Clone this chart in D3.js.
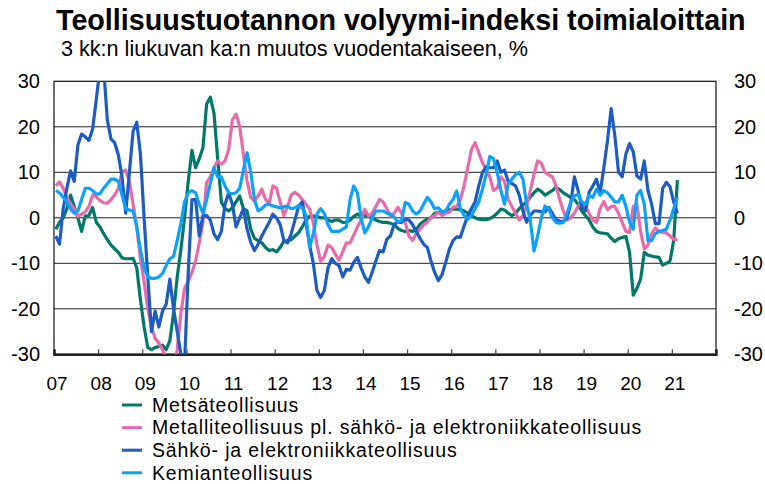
<!DOCTYPE html>
<html>
<head>
<meta charset="utf-8">
<script src="https://cdn.jsdelivr.net/npm/d3@7/dist/d3.min.js"></script>
<style>
  body { margin: 0; background: #fff; }
  text { font-family: "Liberation Sans", Arial, sans-serif; fill: #000; }
</style>
</head>
<body>
<div id="chart"></div>
<script>
// monthly values from 2007-01 to 2021-02, 3 month moving avg y/y change %
const yearLabels = ["07","08","09","10","11","12","13","14","15","16","17","18","19","20","21"];
const yTicks = [-30, -20, -10, 0, 10, 20, 30];

const metsa = [
  -2.5,-1,0,2,5,2.5,0,-3,0.4,0.5,
  2.3,-1,-2,-3.5,-4.8,-6,-6.8,-7.6,-8.8,-9,
  -9,-8.9,-11,-18,-24,-28.5,-29,-28.5,-28.3,-28,
  -29,-27,-21,-13,-7,0,8,14.8,11,13,
  15.4,25,26.5,23,13,3.5,2,1.5,2.2,3.5,
  4.8,2,1.5,-2.5,-4.5,-5,-5.5,-6.5,-7.2,-7,
  -7.5,-6.5,-5.2,-5,-4.8,-4,-3.3,-2,-0.5,0.3,
  0.4,0.3,0,0,-0.5,-0.8,-0.5,-0.5,-1,-1,
  -0.5,0.3,0.8,0.3,0.5,0.3,0,-0.5,-0.8,-1,
  -1,-1.2,-1.5,-2.3,-2.8,-3,-2.8,-3,-2.6,-1.4,
  -0.8,-0.3,0,1,1.2,1.3,1.5,1.8,1.9,1.9,
  1.8,1.5,1,0.5,0,-0.3,-0.4,-0.4,-0.2,0.3,
  1,1.9,1.7,1,0.5,1,2,2.8,3.5,4.5,
  5.5,6.3,5.8,5,5.5,6,6.7,6.2,5.5,5,
  4.5,4,3,1.5,0.5,-0.5,-2,-3,-3.3,-3.4,
  -3.5,-4.5,-5.2,-4.6,-4.3,-4.1,-7.6,-17,-15.5,-13.5,
  -7.6,-8.2,-8.4,-8.6,-8.7,-10.4,-10,-9.5,-5,8.3
];

const metalli = [
  7,7.9,6.5,4.5,3,2,0.3,0.8,1.3,2.5,
  5,4.6,3.8,3.3,3.2,4,5,6.5,10,10.5,
  8,3,-2,-9,-14,-20,-24,-26.5,-27.5,-29,
  -31,-33,-33,-29,-21,-15.5,-14,-12,-9.5,-5.5,
  -1,7.8,9,11,12.5,11.8,12.5,15,21.5,22.8,
  20,14,8,4.5,3.7,4.8,6.3,4.1,3,7,
  6.5,3.5,0.5,2.5,5,5.6,5,4,3,1.9,
  -1,-6,-9.5,-8.5,-6,-6.5,-8,-9.3,-7.5,-5.5,
  -5.5,-3.8,-2,-0.5,1.9,0.4,1,2.5,4,3.5,
  2,0.4,1,2.3,1,-1,-4,-5,-3.5,-2.5,
  -1.5,-1,0,0.5,1.2,0.5,1,1.2,2.3,2.5,
  4,7,11,15,16.5,14.3,12.1,10.7,9,6,
  6.5,9,8,4,2.5,1,-0.5,0.5,2.6,6,
  9.5,12.5,12,10,9.5,9,7,4,1.5,-0.5,
  0,1,2.5,3.4,2.5,1,-0.5,-1,2,3.6,
  1.8,2.5,2.5,1,-1,-3,-3.2,2.5,3,-3,
  -6.8,-6,-3.5,-2.2,-3,-3.2,-3.3,-4,-4.7,-4.8
];

const sahko = [
  -4,-5.8,2,6.5,10.3,8,16,18.4,17.8,17,
  19.5,26,33,33,21.5,17.3,16.5,13.8,9,1,
  10,19,21,14,0,-13,-25,-20.5,-24,-20.5,
  -19,-13.5,-20,-25,-30,-32,-12,4,4,-4,
  0.5,0.5,-0.5,-3.5,-4.8,-3,3,5.5,3,-2,
  0,2,-2.5,-5.4,-7.2,-5.8,-4,-2.5,-1,0.8,
  0,-1.5,-5,-5.5,-3.5,-0.5,2.5,3.5,-1,-6,
  -10,-16,-17.5,-16,-11,-9,-10,-10.5,-13,-11.3,
  -11.5,-9.8,-8.7,-11,-13,-14.2,-12,-9.5,-7.2,-7.5,
  -4.7,-4,-1.4,-1,-1,-0.3,-0.5,-1.5,-3,-4.5,
  -5.8,-6.5,-9.5,-12,-13.8,-12.5,-9.8,-6.9,-5,-4.2,
  -4.3,-1.8,0.5,2,3.5,7,10,11.2,11,11,
  12.5,10,10.5,8,7.5,7,5,1.5,-1,0.5,
  1.5,1.5,1.3,1.3,2.3,1,-0.5,-0.7,-0.8,0,
  3.2,9,6,2.5,1.5,5.6,7,8.5,5.5,11,
  17,24,18,10,9,14,16.3,14.5,9.2,8.5,
  12.5,6,3,-1.3,-1.3,6.5,7.8,6.8,3.5,1
];

const kemia = [
  6,5.5,4.5,3.5,2,1,1.5,4,6.5,6.5,
  6,5.2,5.3,6.5,7.5,8.5,8.5,8,5,2,
  1.7,1.5,-2,-7,-11,-13,-13.3,-13.3,-13,-12.2,
  -10.5,-9,-8.5,-5,-1.2,3.5,5.5,6,5.5,3,
  1,4,7.5,11,9,9,7,5.5,5.3,5.5,
  6.5,10.5,14.3,10,4,1.5,2,2.8,3,2.6,
  2.4,2.2,2.4,2.6,2,2.2,2.7,2.2,0.5,-6.5,
  -3.5,0.8,2,1,-1.5,-3,-3,-3,-2.5,-2,
  4,7,5.5,0,-3.3,-2,0,1.5,1.5,1.5,
  1,0.8,0.2,-1,-0.5,3.4,3,1.5,0.8,1.5,
  3,4.5,3.5,2,2.2,1.2,1.5,3,4,5.9,
  2,0.5,-0.3,0.5,2,3.5,6.3,9.5,13.5,13,
  10,6,3,7.5,8.5,9.5,10,8.5,3,-0.5,
  -7.3,-4,0,2.6,2,0,-1,-1.2,-1,1,
  3.5,4.8,5.2,3.5,3,5,4.5,6.3,5,6,
  5.5,4.5,3.5,3.5,5,2.5,-1,-2.5,5,6,
  3,-5,-5,-3.5,-3,-2.8,-2.5,-0.5,2,4.5
];

const series = [
  { name: "Metsäteollisuus", color: "#00786a", values: metsa },
  { name: "Metalliteollisuus pl. sähkö- ja elektroniikkateollisuus", color: "#e86aab", values: metalli },
  { name: "Sähkö- ja elektroniikkateollisuus", color: "#1c5cc4", values: sahko },
  { name: "Kemianteollisuus", color: "#0ca2fa", values: kemia }
];

const W = 765, H = 484;
const plot = { left: 54, right: 716, top: 81.3, bottom: 354.3 };
const months = yearLabels.length * 12;

const svg = d3.select("#chart").append("svg")
  .attr("width", W).attr("height", H);

const x = d3.scaleLinear().domain([0, months]).range([plot.left, plot.right]);
const y = d3.scaleLinear().domain([-30, 30]).range([plot.bottom, plot.top]);

// title
svg.append("text").attr("x", 56).attr("y", 30)
  .style("font-size", "28.7px").style("font-weight", "bold")
  .text("Teollisuustuotannon volyymi-indeksi toimialoittain");
svg.append("text").attr("x", 61).attr("y", 56)
  .style("font-size", "21.6px")
  .text("3 kk:n liukuvan ka:n muutos vuodentakaiseen, %");

// gridlines
svg.append("g").selectAll("line")
  .data(yTicks.filter(d => d > -30 && d < 30))
  .enter().append("line")
    .attr("x1", plot.left).attr("x2", plot.right)
    .attr("y1", d => y(d)).attr("y2", d => y(d))
    .attr("stroke", "#222").attr("stroke-width", 1);

// frame
svg.append("rect")
  .attr("x", plot.left).attr("y", plot.top)
  .attr("width", plot.right - plot.left).attr("height", plot.bottom - plot.top)
  .attr("fill", "none").attr("stroke", "#111").attr("stroke-width", 1.2);

// y axes, plain hyphen for negatives like the original
const fmt = d => String(d);
const yLeft = svg.append("g")
  .attr("transform", "translate(" + plot.left + ",0)")
  .call(d3.axisLeft(y).tickValues(yTicks).tickFormat(fmt).tickSize(0).tickPadding(14));
const yRight = svg.append("g")
  .attr("transform", "translate(" + plot.right + ",0)")
  .call(d3.axisRight(y).tickValues(yTicks).tickFormat(fmt).tickSize(0).tickPadding(18));
[yLeft, yRight].forEach(g => {
  g.select(".domain").remove();
  g.selectAll("text").style("font-size", "20px").attr("fill", "#000")
    .style("font-family", "'Liberation Sans', Arial, sans-serif");
});

// x axis with inward ticks at year starts
const xAxis = svg.append("g")
  .attr("transform", "translate(0," + plot.bottom + ")")
  .call(d3.axisBottom(x).tickValues(d3.range(12, months, 12)).tickSize(-5).tickFormat(""));
xAxis.select(".domain").attr("stroke", "#222").attr("stroke-width", 2.5);
xAxis.selectAll(".tick line").attr("stroke", "#444").attr("stroke-width", 1.2);

svg.append("g").selectAll("text")
  .data(yearLabels)
  .enter().append("text")
    .attr("x", (d, i) => x(i * 12) + 3)
    .attr("y", 390)
    .attr("text-anchor", "middle")
    .style("font-size", "19px")
    .text(d => d);

// lines
svg.append("clipPath").attr("id", "plotclip")
  .append("rect")
    .attr("x", plot.left).attr("y", plot.top)
    .attr("width", plot.right - plot.left).attr("height", plot.bottom - plot.top);

const line = d3.line()
  .x((d, i) => x(i + 0.5))
  .y(d => y(d));

svg.append("g").attr("clip-path", "url(#plotclip)")
  .selectAll("path")
  .data(series)
  .enter().append("path")
    .attr("fill", "none")
    .attr("stroke", d => d.color)
    .attr("stroke-width", 3.2)
    .attr("stroke-linejoin", "round")
    .attr("d", d => line(d.values));

// legend (rows are tight, so slightly smaller font with a bit of tracking)
const legend = svg.append("g").selectAll("g")
  .data(series)
  .enter().append("g")
    .attr("transform", (d, i) => "translate(122," + (405 + i * 22.6) + ")");
legend.append("line")
  .attr("x1", 0).attr("x2", 20)
  .attr("stroke", d => d.color).attr("stroke-width", 3);
legend.append("text")
  .attr("x", 30).attr("dy", "0.35em")
  .style("font-size", "19.5px")
  .style("letter-spacing", "0.85px")
  .text(d => d.name);
</script>
</body>
</html>
